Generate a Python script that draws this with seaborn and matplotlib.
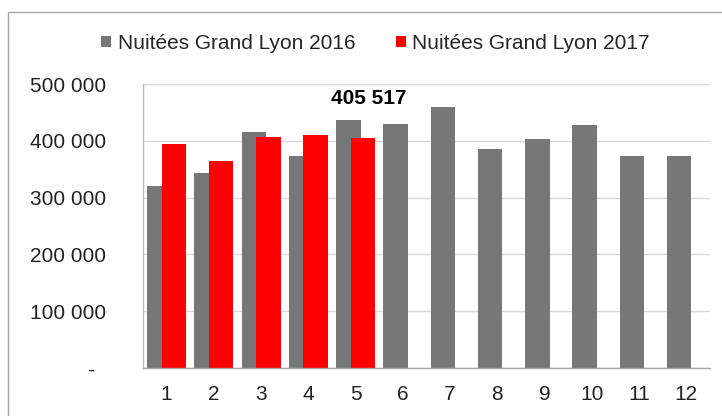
import matplotlib
matplotlib.use("Agg")
import matplotlib.pyplot as plt
import seaborn as sns
import pandas as pd
import numpy as np
from matplotlib.patches import Rectangle, Patch

# ---- data ----
months = [1, 2, 3, 4, 5, 6, 7, 8, 9, 10, 11, 12]
nuitees_2016 = [321000, 343000, 415000, 374000, 436000, 430000,
                460000, 386000, 403000, 427000, 374000, 374000]
months_2017 = [1, 2, 3, 4, 5]
nuitees_2017 = [395000, 365000, 407000, 410000, 405517]
series_labels = ["Nuitées Grand Lyon 2016", "Nuitées Grand Lyon 2017"]
y_ticks = [0, 100000, 200000, 300000, 400000, 500000]
y_tick_labels = ["-  ", "100 000", "200 000", "300 000", "400 000", "500 000"]
x_tick_labels = [str(m) for m in months]
highlight_label = "405 517"

# ---- style ----
sns.set_theme(style="white")
plt.rcParams['font.family'] = ['Liberation Sans', 'DejaVu Sans']
FS = 15
c16 = "#777777"
c17 = "#FF0000"

fig = plt.figure(figsize=(7.22, 4.16), dpi=100)
fig.patch.set_facecolor("white")
ax = fig.add_axes([143 / 722, 48 / 416, 567 / 722, 284 / 416])

offset = 0.154
width = 0.516
df16 = pd.DataFrame({"x": np.array(months) - offset, "v": nuitees_2016})
df17 = pd.DataFrame({"x": np.array(months_2017) + offset, "v": nuitees_2017})

sns.barplot(data=df16, x="x", y="v", native_scale=True, width=width,
            color=c16, saturation=1, errorbar=None, linewidth=0, ax=ax)
sns.barplot(data=df17, x="x", y="v", native_scale=True, width=width,
            color=c17, saturation=1, errorbar=None, linewidth=0, ax=ax)

ax.set_xlim(0.5, 12.5)
ax.set_ylim(0, 500000)
ax.set_xticks(months)
ax.set_xticklabels(x_tick_labels, fontsize=FS, color="#222222")
ax.set_yticks(y_ticks)
ax.set_yticklabels(y_tick_labels, fontsize=FS, color="#222222")
ax.set_xlabel("")
ax.set_ylabel("")
ax.tick_params(axis="y", length=0, pad=26.5)
ax.tick_params(axis="x", length=0, pad=12)

ax.yaxis.grid(True, color="#D9D9D9", linewidth=1)
ax.xaxis.grid(False)
ax.set_axisbelow(True)
for s in ["top", "right"]:
    ax.spines[s].set_visible(False)
ax.spines["left"].set_color("#BFBFBF")
ax.spines["bottom"].set_color("#A6A6A6")
ax.spines["left"].set_linewidth(1)
ax.spines["bottom"].set_linewidth(1)

# highlighted value
ax.annotate(highlight_label, xy=(months_2017[-1] + offset, nuitees_2017[-1]),
            xytext=(4, 24), textcoords="offset points", ha="center",
            va="baseline", fontsize=FS, fontweight="bold", color="black")

# legend
handles = [Patch(facecolor=c16, edgecolor="none"), Patch(facecolor=c17, edgecolor="none")]
fig.legend(handles, series_labels, loc="center", bbox_to_anchor=(375.5 / 722, 1 - 43.5 / 416),
           ncol=2, frameon=False, fontsize=FS, handlelength=0.48, handleheight=0.48,
           handletextpad=0.32, columnspacing=1.95, borderpad=0, borderaxespad=0)

# outer chart border
fig.add_artist(Rectangle((8 / 722, -0.1), 1.0, (416 - 12) / 416 + 0.1,
                         transform=fig.transFigure, fill=False,
                         edgecolor="#A6A6A6", linewidth=1))

fig.savefig("out.png", dpi=100)
